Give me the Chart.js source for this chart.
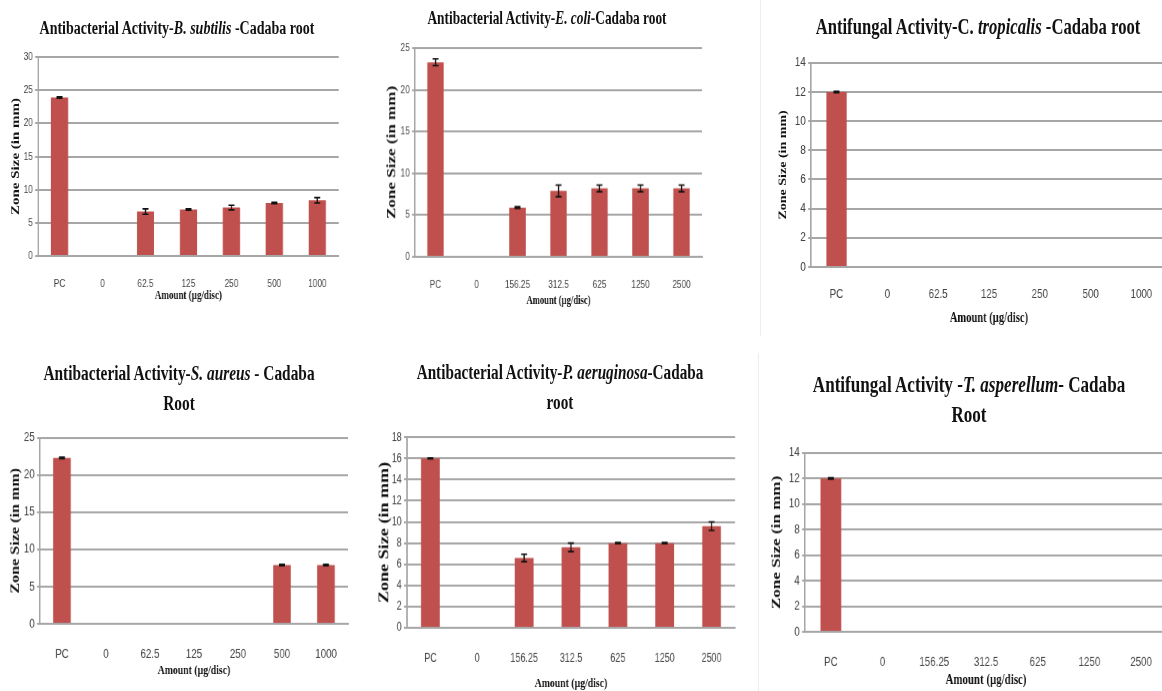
<!DOCTYPE html>
<html>
<head>
<meta charset="utf-8">
<script src="https://cdn.jsdelivr.net/npm/chart.js@4.4.1/dist/chart.umd.min.js"></script>
<style>
  body { margin: 0; width: 1162px; height: 691px; overflow: hidden; background: #fff; position: relative; }
  .panel { position: absolute; top: 0; height: 691px; transform-origin: 0 0; transform: scaleX(0.75); }
  .ttl { position: absolute; font-family: "Liberation Serif", serif; font-weight: bold; color: #111;
         white-space: nowrap; text-align: center; line-height: 30px; transform: translateX(-50%); }
  .box { position: absolute; left: 0; }
  .edge { position: absolute; width: 1px; background: #ededed; }
</style>
</head>
<body>
<div class="edge" style="left:760px;top:0;height:336px"></div>
<div class="edge" style="left:758px;top:353px;height:338px"></div>
<script>
// categories (amount, µg/disc)
const amountsLow = ['PC', '0', '62.5', '125', '250', '500', '1000'];
const amountsHigh = ['PC', '0', '156.25', '312.5', '625', '1250', '2500'];

// zone size (mm) and error
const bSubtilis = [23.9, 0, 6.7, 7.0, 7.3, 8.0, 8.4];
const bSubtilisErr = [0.1, 0, 0.4, 0.1, 0.35, 0.1, 0.4];
const eColi = [23.3, 0, 5.9, 7.9, 8.2, 8.2, 8.2];
const eColiErr = [0.4, 0, 0.1, 0.7, 0.4, 0.4, 0.4];
const cTropicalis = [12, 0, 0, 0, 0, 0, 0];
const cTropicalisErr = [0.05, 0, 0, 0, 0, 0, 0];
const sAureus = [22.3, 0, 0, 0, 0, 7.9, 7.9];
const sAureusErr = [0.1, 0, 0, 0, 0, 0.1, 0.1];
const pAeruginosa = [16.0, 0, 6.6, 7.6, 8.0, 8.0, 9.6];
const pAeruginosaErr = [0.05, 0, 0.35, 0.4, 0.05, 0.05, 0.4];
const tAsperellum = [12, 0, 0, 0, 0, 0, 0];
const tAsperellumErr = [0.05, 0, 0, 0, 0, 0, 0];

// y axis ranges
const yMax = [30, 25, 14, 25, 18, 14];
const yStep = [5, 5, 2, 5, 2, 2];

const S = 0.75; // horizontal squeeze of the original figure
const BAR = '#C0504D';
const GRID = '#a6a6a6';

const errorBars = {
  id: 'errorBars',
  afterDatasetsDraw(chart, args, opts) {
    const ctx = chart.ctx;
    const y = chart.scales.y;
    const ds = chart.data.datasets[0];
    chart.getDatasetMeta(0).data.forEach((bar, i) => {
      const v = ds.data[i], e = opts.errors[i];
      if (!v || !e) return;
      const t = y.getPixelForValue(v + e), b = y.getPixelForValue(v - e);
      ctx.save();
      ctx.strokeStyle = '#111';
      ctx.lineWidth = 1.6;
      ctx.beginPath();
      ctx.moveTo(bar.x, t); ctx.lineTo(bar.x, b);
      ctx.moveTo(bar.x - 4, t); ctx.lineTo(bar.x + 4, t);
      ctx.moveTo(bar.x - 4, b); ctx.lineTo(bar.x + 4, b);
      ctx.stroke();
      ctx.restore();
    });
  }
};

const panels = [
  { left: 0, right: 375, title: 'Antibacterial Activity-<i>B. subtilis</i> -Cadaba root', tSize: 18.7, tx: 177, ty: 28,
    labels: amountsLow, data: bSubtilis, err: bSubtilisErr,
    axisLeft: 38, plotRight: 338, plotTop: 57, plotBottom: 256, labelY: 276, xTitleY: 296, yTitleX: 16,
    tick: 11, xt: 12, yt: 15 },
  { left: 378, right: 758, title: 'Antibacterial Activity-<i>E. coli</i>-Cadaba root', tSize: 17.8, tx: 547, ty: 18,
    labels: amountsHigh, data: eColi, err: eColiErr,
    axisLeft: 415, plotRight: 702, plotTop: 48, plotBottom: 256, labelY: 276, xTitleY: 300, yTitleX: 392,
    tick: 11, xt: 11.5, yt: 17 },
  { left: 762, right: 1162, title: 'Antifungal Activity-C. <i>tropicalis</i> -Cadaba root', tSize: 22.2, tx: 978, ty: 27,
    labels: amountsLow, data: cTropicalis, err: cTropicalisErr,
    axisLeft: 811, plotRight: 1166, plotTop: 62, plotBottom: 267, labelY: 286, xTitleY: 318, yTitleX: 783,
    tick: 13, xt: 14, yt: 14 },
  { left: 0, right: 375, title: 'Antibacterial Activity-<i>S. aureus</i> - Cadaba<br>Root', tSize: 20.5, tx: 179, ty: 373,
    labels: amountsLow, data: sAureus, err: sAureusErr,
    axisLeft: 40, plotRight: 348, plotTop: 437, plotBottom: 623, labelY: 645, xTitleY: 670, yTitleX: 16,
    tick: 13, xt: 13, yt: 16 },
  { left: 377, right: 756, title: 'Antibacterial Activity-<i>P. aeruginosa</i>-Cadaba<br>root', tSize: 20.3, tx: 560, ty: 372,
    labels: amountsHigh, data: pAeruginosa, err: pAeruginosaErr,
    axisLeft: 407, plotRight: 735, plotTop: 437, plotBottom: 627, labelY: 650, xTitleY: 683, yTitleX: 384,
    tick: 12, xt: 13, yt: 18 },
  { left: 762, right: 1162, title: 'Antifungal Activity -<i>T. asperellum</i>- Cadaba<br>Root', tSize: 22.8, tx: 969, ty: 385,
    labels: amountsHigh, data: tAsperellum, err: tAsperellumErr,
    axisLeft: 805, plotRight: 1167, plotTop: 452, plotBottom: 631, labelY: 653, xTitleY: 679, yTitleX: 777,
    tick: 13, xt: 14.5, yt: 17 }
];

panels.forEach((p, k) => {
  const panel = document.createElement('div');
  panel.className = 'panel';
  panel.style.left = p.left + 'px';
  panel.style.width = ((p.right - p.left) / S) + 'px';
  document.body.appendChild(panel);

  const ttl = document.createElement('div');
  ttl.className = 'ttl';
  ttl.style.fontSize = p.tSize + 'px';
  ttl.style.left = ((p.tx - p.left) / S) + 'px';
  ttl.style.top = (p.ty - 15) + 'px';
  ttl.innerHTML = p.title;
  panel.appendChild(ttl);

  const padTop = 10, padRight = 2;
  const xLH = p.xt * 1.2, yLH = p.yt * 1.2, tLH = p.tick * 1.2;
  const xAxisH = p.xTitleY + xLH / 2 - p.plotBottom;
  const box = document.createElement('div');
  box.className = 'box';
  box.style.top = (p.plotTop - padTop) + 'px';
  box.style.width = ((p.plotRight - p.left) / S + padRight) + 'px';
  box.style.height = (padTop + p.plotBottom - p.plotTop + xAxisH) + 'px';
  const canvas = document.createElement('canvas');
  box.appendChild(canvas);
  panel.appendChild(box);

  new Chart(canvas, {
    type: 'bar',
    data: {
      labels: p.labels,
      datasets: [{
        data: p.data,
        backgroundColor: BAR,
        barPercentage: 0.4,
        categoryPercentage: 1
      }]
    },
    options: {
      responsive: true,
      maintainAspectRatio: false,
      animation: false,
      layout: { padding: { top: padTop, right: padRight, left: 0, bottom: 0 } },
      plugins: {
        legend: { display: false },
        tooltip: { enabled: false },
        errorBars: { errors: p.err }
      },
      scales: {
        x: {
          grid: { display: false },
          border: { display: true, color: GRID, width: 2 },
          ticks: {
            color: '#444',
            font: { family: '"Liberation Sans", sans-serif', size: p.tick },
            padding: p.labelY - p.plotBottom - tLH / 2,
            maxRotation: 0,
            autoSkip: false
          },
          title: {
            display: true,
            text: 'Amount (µg/disc)',
            color: '#111',
            font: { family: '"Liberation Serif", serif', size: p.xt, weight: 'bold' },
            padding: 0
          },
          afterFit: (s) => { s.height = xAxisH; }
        },
        y: {
          min: 0,
          max: yMax[k],
          ticks: {
            stepSize: yStep[k],
            color: '#444',
            font: { family: '"Liberation Sans", sans-serif', size: p.tick },
            padding: 3
          },
          grid: { color: GRID, lineWidth: 2, tickLength: 4 },
          border: { display: true, color: GRID, width: 2 },
          title: {
            display: true,
            text: 'Zone Size (in mm)',
            color: '#111',
            font: { family: '"Liberation Serif", serif', size: p.yt, weight: 'bold' },
            padding: { top: Math.max(0, (p.yTitleX - p.left) / S - yLH / 2), bottom: 0 }
          },
          afterFit: (s) => { s.width = (p.axisLeft - p.left) / S; }
        }
      }
    },
    plugins: [errorBars]
  });
});
</script>
</body>
</html>
